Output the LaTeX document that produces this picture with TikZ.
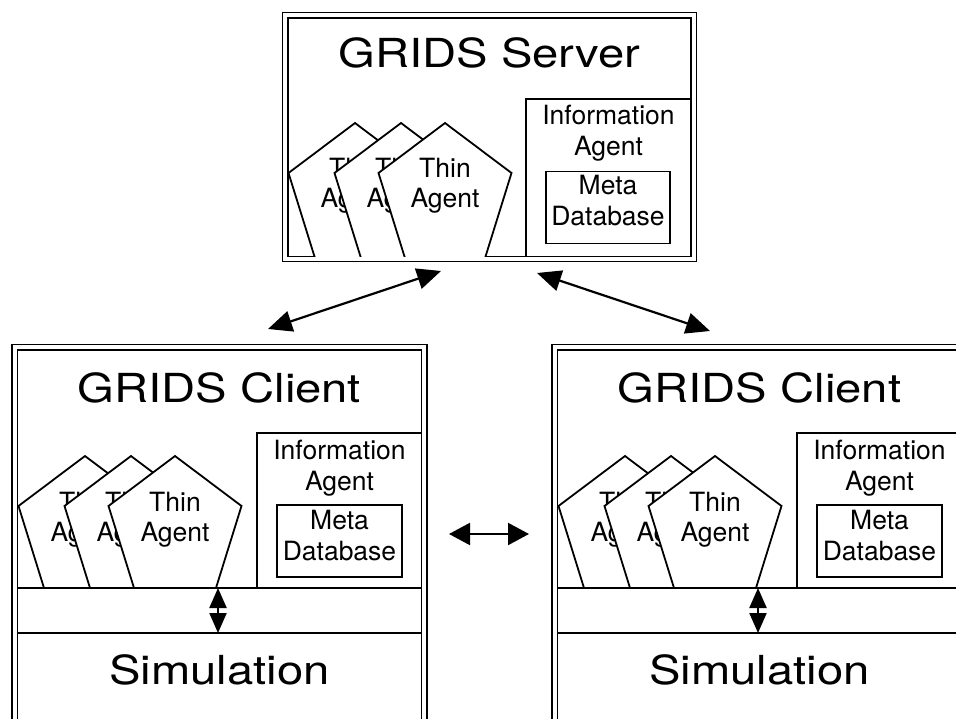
\documentclass[tikz,border=0pt]{standalone}
\usepackage{fontspec}
\setmainfont{TeX Gyre Heros}
\newfontfamily\bigfont[FakeStretch=1.18]{TeX Gyre Heros}
\usetikzlibrary{arrows.meta}
\tikzset{
  frame/.style={draw, line width=1.8pt},
  pent/.style={draw, fill=white, line width=1.8pt, line join=miter},
  bigtext/.style={font=\bigfont\fontsize{40}{48}\selectfont, anchor=base, inner sep=0pt},
  smalltext/.style={font=\fontsize{26.5}{30}\selectfont, anchor=base, inner sep=0pt},
  diagarrow/.style={line width=2.2pt, {Triangle[length=24pt,width=21pt]}-{Triangle[length=24pt,width=21pt]}},
  harrow/.style={line width=2.2pt, {Triangle[length=21pt,width=22pt]}-{Triangle[length=21pt,width=22pt]}},
  varrow/.style={line width=2.2pt, {Triangle[length=20pt,width=17pt]}-{Triangle[length=20pt,width=17pt]}},
}
\newcommand\agentpent[3]{%
  \draw[pent] (#1,#2) -- ++(66.5,50) -- ++(-28,90) -- ++(-77,0) -- ++(-28,-90) -- cycle;
  \node[smalltext] (#3a) at (#1,#2+55) {Thin};
  \node[smalltext] (#3b) at (#1,#2+85) {Agent};
}
\newcommand\gridsclient[1]{%
  \draw[frame] (12,344.5) rectangle (427,740);
  \draw[frame] (17.5,350) rectangle (421.5,740);
  \node[bigtext] (#1title) at (219.5,402) {GRIDS Client};
  \begin{scope}
    \clip (17.5,350) rectangle (421.5,588);
    \agentpent{85}{456}{#1p1}
    \agentpent{131}{456}{#1p2}
    \agentpent{175}{456}{#1p3}
  \end{scope}
  \draw[frame] (17.5,588) -- (421.5,588);
  \draw[frame] (257,433) rectangle (421.5,588);
  \node[smalltext] (#1info) at (339.5,459) {Information};
  \node[smalltext] (#1infob) at (339.5,490) {Agent};
  \draw[frame] (277,505) rectangle (402,577);
  \node[smalltext] (#1meta) at (339.5,529) {Meta};
  \node[smalltext] (#1db) at (339.5,560) {Database};
  \draw[frame] (17.5,633) -- (421.5,633);
  \node[bigtext] (#1sim) at (219.5,684) {Simulation};
  \coordinate (#1up) at (218,588);
  \coordinate (#1dn) at (218,633);
  \draw[varrow] (#1up) -- (#1dn);
}
\begin{document}
\begin{tikzpicture}[x=1pt,y=-1pt]
\useasboundingbox (0,0) rectangle (956,719);
\clip (0,0) rectangle (956,719);
\fill[white] (0,0) rectangle (956,719);
% server
\draw[frame] (282.5,12.5) rectangle (696.5,261.5);
\draw[frame] (288,18) rectangle (691,256.5);
\node[bigtext] (stitle) at (489.5,68) {GRIDS Server};
\begin{scope}
  \clip (288,18) rectangle (691,256.5);
  \agentpent{355}{123}{sp1}
  \agentpent{401}{123}{sp2}
  \agentpent{445}{123}{sp3}
\end{scope}
\draw[frame] (526,99) rectangle (691,256.5);
\node[smalltext] (sinfo) at (608.5,125) {Information};
\node[smalltext] (sinfob) at (608.5,156) {Agent};
\draw[frame] (546,171.5) rectangle (670,243.5);
\node[smalltext] (smeta) at (608,195) {Meta};
\node[smalltext] (sdb) at (608,226) {Database};
% clients
\gridsclient{L}
\begin{scope}[xshift=540pt]
  \gridsclient{R}
\end{scope}
% arrows
\coordinate (sL) at (441,271);
\coordinate (cL) at (268,329);
\coordinate (sR) at (537,273);
\coordinate (cR) at (710,331);
\draw[diagarrow] (cL) -- (sL);
\draw[diagarrow] (sR) -- (cR);
\coordinate (hl) at (449,534);
\coordinate (hr) at (529,534);
\draw[harrow] (hl) -- (hr);
\end{tikzpicture}
\end{document}
